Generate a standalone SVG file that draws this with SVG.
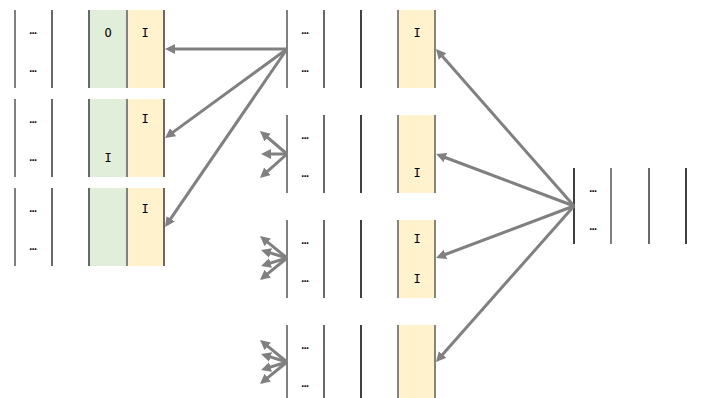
<svg xmlns="http://www.w3.org/2000/svg" width="719" height="398" viewBox="0 0 719 398">
<defs>
<style>
.g{stroke:#808080;stroke-width:2}
.d{stroke:#444;stroke-width:1.6}
.k{stroke:#111;stroke-width:1.6}
.m{stroke:#666;stroke-width:1.6}
.gr{fill:#e1eed9}
.ye{fill:#fff2cc}
text{font-family:"DejaVu Sans Mono","Liberation Mono",monospace;font-size:12px;fill:#000;text-anchor:middle}
.a{stroke:#808080;stroke-width:3;fill:none;marker-end:url(#ah)}
</style>
<marker id="ah" markerUnits="userSpaceOnUse" markerWidth="12" markerHeight="12" refX="3" refY="5" orient="auto">
<path d="M0,0 L10,5 L0,10 z" fill="#808080"/>
</marker>
</defs>
<g id="L1">
<rect class="gr" x="89" y="10" width="38" height="78"/><rect class="ye" x="127" y="10" width="37" height="78"/>
<line class="g" x1="15" y1="10" x2="15" y2="88"/><line class="d" x1="52" y1="10" x2="52" y2="88"/><line class="d" x1="89" y1="10" x2="89" y2="88"/><line class="m" x1="127" y1="10" x2="127" y2="88"/><line class="d" x1="164" y1="10" x2="164" y2="88"/>
<text x="33" y="34">…</text><text x="33" y="72">…</text><text x="108" y="37">O</text><text x="145" y="37">I</text>
</g>
<g id="L2">
<rect class="gr" x="89" y="99" width="38" height="78"/><rect class="ye" x="127" y="99" width="37" height="78"/>
<line class="g" x1="15" y1="99" x2="15" y2="177"/><line class="d" x1="52" y1="99" x2="52" y2="177"/><line class="d" x1="89" y1="99" x2="89" y2="177"/><line class="m" x1="127" y1="99" x2="127" y2="177"/><line class="d" x1="164" y1="99" x2="164" y2="177"/>
<text x="33" y="123">…</text><text x="33" y="161">…</text><text x="145" y="123">I</text><text x="108" y="162">I</text>
</g>
<g id="L3">
<rect class="gr" x="89" y="188" width="38" height="78"/><rect class="ye" x="127" y="188" width="37" height="78"/>
<line class="g" x1="15" y1="188" x2="15" y2="266"/><line class="d" x1="52" y1="188" x2="52" y2="266"/><line class="d" x1="89" y1="188" x2="89" y2="266"/><line class="m" x1="127" y1="188" x2="127" y2="266"/><line class="d" x1="164" y1="188" x2="164" y2="266"/>
<text x="33" y="212">…</text><text x="33" y="250">…</text><text x="145" y="213">I</text>
</g>
<g id="M1">
<rect class="ye" x="398" y="10" width="37" height="78"/>
<line class="g" x1="287" y1="10" x2="287" y2="88"/><line class="d" x1="324" y1="10" x2="324" y2="88"/><line class="k" x1="361" y1="10" x2="361" y2="88"/><line class="m" x1="398" y1="10" x2="398" y2="88"/><line class="m" x1="435" y1="10" x2="435" y2="88"/>
<text x="305" y="34">…</text><text x="305" y="72">…</text><text x="417" y="37">I</text>
</g>
<g id="M2">
<rect class="ye" x="398" y="115" width="37" height="78"/>
<line class="g" x1="287" y1="115" x2="287" y2="193"/><line class="d" x1="324" y1="115" x2="324" y2="193"/><line class="k" x1="361" y1="115" x2="361" y2="193"/><line class="m" x1="398" y1="115" x2="398" y2="193"/><line class="m" x1="435" y1="115" x2="435" y2="193"/>
<text x="305" y="139">…</text><text x="305" y="177">…</text><text x="417" y="177">I</text>
</g>
<g id="M3">
<rect class="ye" x="398" y="220" width="37" height="78"/>
<line class="g" x1="287" y1="220" x2="287" y2="298"/><line class="d" x1="324" y1="220" x2="324" y2="298"/><line class="k" x1="361" y1="220" x2="361" y2="298"/><line class="m" x1="398" y1="220" x2="398" y2="298"/><line class="m" x1="435" y1="220" x2="435" y2="298"/>
<text x="305" y="244">…</text><text x="305" y="282">…</text><text x="417" y="243">I</text><text x="417" y="283">I</text>
</g>
<g id="M4">
<rect class="ye" x="398" y="325" width="37" height="78"/>
<line class="g" x1="287" y1="325" x2="287" y2="403"/><line class="d" x1="324" y1="325" x2="324" y2="403"/><line class="k" x1="361" y1="325" x2="361" y2="403"/><line class="m" x1="398" y1="325" x2="398" y2="403"/><line class="m" x1="435" y1="325" x2="435" y2="403"/>
<text x="305" y="349">…</text><text x="305" y="387">…</text>
</g>
<g id="R">
<line class="k" x1="574" y1="168" x2="574" y2="244"/><line class="g" x1="611" y1="168" x2="611" y2="244"/><line class="d" x1="649" y1="168" x2="649" y2="244"/><line class="k" x1="686" y1="168" x2="686" y2="244"/>
<text x="593" y="192">…</text><text x="593" y="230">…</text>
</g>
<g id="connectors">
<line class="a" x1="287" y1="49" x2="172" y2="49"/>
<line class="a" x1="287" y1="49" x2="170.7" y2="133.9"/>
<line class="a" x1="287" y1="49" x2="169" y2="221.2"/>
<line class="a" x1="574" y1="206" x2="440.6" y2="54.3"/>
<line class="a" x1="574" y1="206" x2="442.6" y2="156.5"/>
<line class="a" x1="574" y1="206" x2="442.6" y2="255.5"/>
<line class="a" x1="574" y1="206" x2="440.6" y2="356.8"/>
<line class="a" x1="287" y1="154" x2="265.3" y2="135.5"/>
<line class="a" x1="287" y1="154" x2="268" y2="154"/>
<line class="a" x1="287" y1="154" x2="265.2" y2="173.3"/>
<line class="a" x1="287" y1="258" x2="265.4" y2="240.4"/>
<line class="a" x1="287" y1="258" x2="267.7" y2="252.1"/>
<line class="a" x1="287" y1="258" x2="267.7" y2="263.9"/>
<line class="a" x1="287" y1="258" x2="265.4" y2="275.6"/>
<line class="a" x1="287" y1="362" x2="265.4" y2="344.4"/>
<line class="a" x1="287" y1="362" x2="267.7" y2="356.1"/>
<line class="a" x1="287" y1="362" x2="267.7" y2="367.9"/>
<line class="a" x1="287" y1="362" x2="265.4" y2="379.6"/>
</g>
</svg>
